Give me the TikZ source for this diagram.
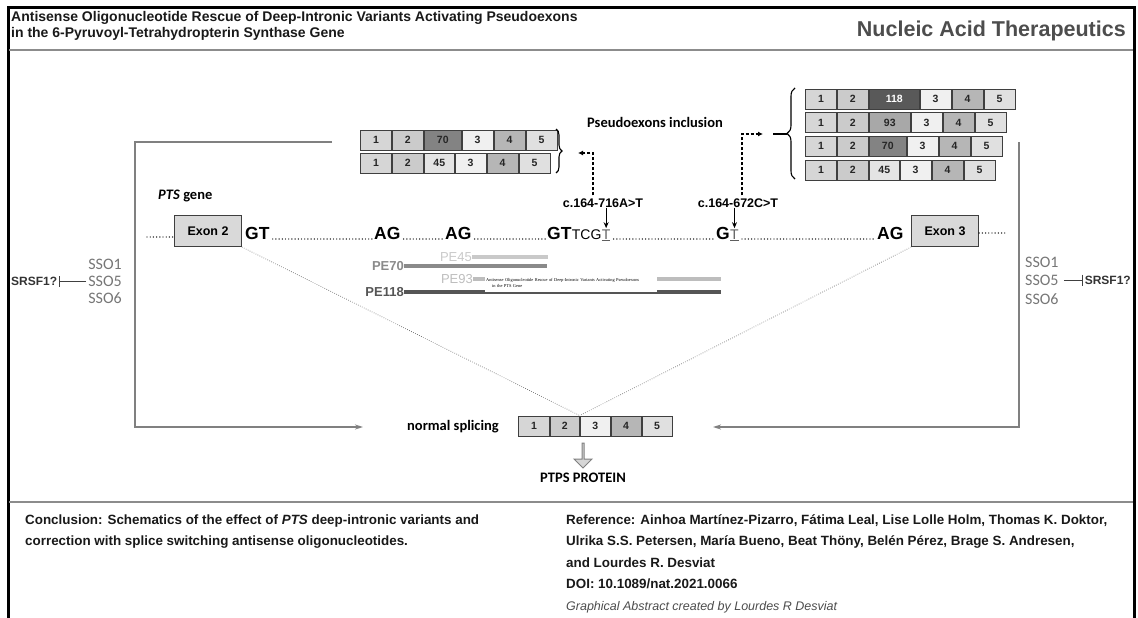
\documentclass[tikz,border=0pt]{standalone}
\usepackage{fontspec}
\setmainfont{Liberation Sans}
\newfontfamily\calfont{Carlito}
\newfontfamily\serfont{Liberation Serif}
\usetikzlibrary{positioning, arrows.meta, decorations.pathreplacing, shapes.arrows}
\definecolor{cellA}{HTML}{D6D6D6}
\definecolor{cellB}{HTML}{CBCBCB}
\definecolor{cellC}{HTML}{F0F0F0}
\definecolor{cellD}{HTML}{B6B6B6}
\definecolor{cellE}{HTML}{E0E0E0}
\definecolor{peA}{HTML}{595959}
\definecolor{peB}{HTML}{A8A8A8}
\definecolor{peC}{HTML}{838383}
\definecolor{peD}{HTML}{E4E4E4}
\definecolor{cellline}{HTML}{3F3F3F}
\definecolor{exonfill}{HTML}{D9D9D9}
\definecolor{flowgray}{HTML}{808080}
\definecolor{rulegray}{HTML}{8C8C8C}
\definecolor{ssogray}{HTML}{767676}
\definecolor{mutgray}{HTML}{5E5E5E}
\definecolor{lineA}{HTML}{C9C9C9}
\definecolor{lineB}{HTML}{8A8A8A}
\definecolor{lineC}{HTML}{BDBDBD}
\definecolor{lineD}{HTML}{555555}
\definecolor{journalgray}{HTML}{4D4D4D}
\tikzstyle{dasharrow} = [line width=1.1pt,dash pattern=on 3pt off 2pt,-{Latex[length=5pt,width=5pt]}]

% one transcript row: name, x, y, pseudoexon width, label, pseudoexon options
\newcommand\isorow[6]{%
  \node[cell,fill=cellA,anchor=west] (#1a) at (#2,#3) {1};
  \node[cell,fill=cellB,right=0pt of #1a] (#1b) {2};
  \node[cell,#6,minimum width=#4,right=0pt of #1b] (#1p) {#5};
  \node[cell,fill=cellC,right=0pt of #1p] (#1c) {3};
  \node[cell,fill=cellD,right=0pt of #1c] (#1d) {4};
  \node[cell,fill=cellE,right=0pt of #1d] (#1e) {5};}

\begin{document}
\begin{tikzpicture}[x=1pt,y=-1pt]
        \tikzstyle{every node}=[inner sep=0pt]
        \tikzstyle{cell} = [draw=cellline, line width=0.9pt, minimum width=31, minimum height=20, font=\bfseries\fontsize{10.5}{12}\selectfont, text=black!85]
        \tikzstyle{exon} = [draw=cellline, fill=exonfill, line width=1.3pt, minimum width=67, minimum height=31, font=\bfseries\fontsize{12.5}{14}\selectfont]
        \tikzstyle{splice} = [anchor=base west, font=\bfseries\fontsize{17.5}{20}\selectfont]
        \tikzstyle{mutbase} = [anchor=base west, font=\fontsize{14}{16}\selectfont]
        \tikzstyle{mutlab} = [font=\bfseries\fontsize{12.5}{15}\selectfont]
        \tikzstyle{gdots} = [line width=1.4pt, dash pattern=on 0pt off 3.2pt, line cap=round]
        \tikzstyle{vdots} = [line width=0.9pt, dash pattern=on 0pt off 2.2pt, line cap=round, mutgray]
        \tikzstyle{flow} = [line width=1.6pt, flowgray, -{Stealth[length=8pt,width=5pt]}]
        \tikzstyle{sso} = [font=\calfont\fontsize{16}{18}\selectfont, text=ssogray]
        \tikzstyle{srsf} = [font=\bfseries\fontsize{12}{14}\selectfont, text=black!80]
        \tikzstyle{inhib} = [line width=1pt, black!75, -{Bar[width=11pt]}]
        \tikzstyle{calbold} = [font=\calfont\bfseries\fontsize{14.5}{17}\selectfont]
        \tikzstyle{foot} = [anchor=base west, font=\bfseries\fontsize{13.4}{16}\selectfont, text=black!90]
        \tikzstyle{headline} = [anchor=base west, font=\bfseries\fontsize{14}{17}\selectfont, text=black!90]

        \useasboundingbox (0,0) rectangle (1138,618);

        % header and frame
        \node[headline] (title1) at (11,22) {Antisense Oligonucleotide Rescue of Deep-Intronic Variants Activating Pseudoexons};
        \node[headline] (title2) at (11,38) {in the 6-Pyruvoyl-Tetrahydropterin Synthase Gene};
        \node[anchor=east, font=\bfseries\fontsize{21.5}{25}\selectfont, text=journalgray] (journal) at (1126,31) {Nucleic Acid Therapeutics};
        \draw[line width=3pt, line join=miter] (8,630) -- (8,8) -- (1134,8) -- (1134,630);
        \draw[line width=2pt, rulegray] (9,50) -- (1133,50);
        \draw[line width=2pt, rulegray] (9,502) -- (1133,502);

        % transcripts with pseudoexons
        \isorow{la}{360}{140}{37}{70}{fill=peC}
        \isorow{lb}{360}{163}{30}{45}{fill=peD}
        \isorow{ra}{805}{99}{50}{118}{fill=peA,text=white}
        \isorow{rb}{805}{122.5}{41}{93}{fill=peB}
        \isorow{rc}{805}{146}{37}{70}{fill=peC}
        \isorow{rd}{805}{170}{30}{45}{fill=peD}
        \draw[line width=1.1pt, decorate, decoration={brace, amplitude=6pt}] (556,129) -- (556,173);
        \draw[line width=1.1pt, decorate, decoration={brace, amplitude=8pt}] (795,179) -- (795,88);
        \node[calbold] (pei) at (655,122) {Pseudoexons inclusion};

        % PTS gene
        \node[calbold, anchor=west] (pts) at (158,196) {\textit{PTS} gene};
        \node[exon] (ex2) at (208,231) {Exon 2};
        \node[exon] (ex3) at (945,231) {Exon 3};
        \node[splice] (gt1) at (245,239) {GT};
        \node[splice] (ag1) at (374,239) {AG};
        \node[splice] (ag2) at (445,239) {AG};
        \node[splice] (gt2) at (547,239) {GT};
        \node[mutbase] (tcg) at (gt2.base east) {TCG};
        \node[mutbase, text=mutgray] (mut1) at (tcg.base east) {\underline{T}};
        \node[splice] (g3) at (716,239) {G};
        \node[mutbase, text=mutgray] (mut2) at (g3.base east) {\underline{T}};
        \node[splice] (ag3) at (877,239) {AG};
        \coordinate (gstart) at (147,237);
        \coordinate (gend) at (1007,233);
        \draw[gdots] (gstart) -- (gstart -| ex2.west);
        \draw[gdots] ([xshift=3pt]gt1.base east) -- ([xshift=-1pt]ag1.base west);
        \draw[gdots] ([xshift=3pt]ag1.base east) -- ([xshift=-1pt]ag2.base west);
        \draw[gdots] ([xshift=3pt]ag2.base east) -- ([xshift=-1pt]gt2.base west);
        \draw[gdots] ([xshift=3pt]mut1.base east) -- ([xshift=-1pt]g3.base west);
        \draw[gdots] ([xshift=3pt]mut2.base east) -- ([xshift=-1pt]ag3.base west);
        \draw[gdots] (ex3.east |- gend) -- (gend);

        % variants
        \node[mutlab] (m716) at (603,203) {c.164-716A>T};
        \node[mutlab] (m672) at (738,203) {c.164-672C>T};
        \draw[line width=1.1pt, -{Stealth[length=6pt,width=5pt]}] (mut1.north |- m716.south) -- ([yshift=1pt]mut1.north);
        \draw[line width=1.1pt, -{Stealth[length=6pt,width=5pt]}] (mut2.north |- m672.south) -- ([yshift=1pt]mut2.north);
        \coordinate (ltip) at (578,153);
        \coordinate (rtip) at (763,134);
        \coordinate (rbr) at (787,134);
        \draw[dasharrow] ([xshift=-10pt,yshift=3pt]m716.north) |- (ltip);
        \draw[dasharrow] ([xshift=4pt,yshift=3pt]m672.north) |- (rtip);
        \draw[line width=1.1pt] ([xshift=10pt]rtip) -- (rbr);

        % pseudoexon extents
        \node[anchor=east, font=\fontsize{13}{15}\selectfont, text=lineA] (pe45) at (472,257) {PE45};
        \node[anchor=east, font=\bfseries\fontsize{13}{15}\selectfont, text=lineB] (pe70) at (404,266) {PE70};
        \node[anchor=east, font=\fontsize{13}{15}\selectfont, text=lineC] (pe93) at (473,279) {PE93};
        \node[anchor=east, font=\bfseries\fontsize{13}{15}\selectfont, text=lineD] (pe118) at (404,292) {PE118};
        \coordinate (pe45e) at (548,257);
        \coordinate (pe70e) at (547,266);
        \coordinate (pe93e) at (721,279);
        \coordinate (pe118e) at (721,292);
        \draw[line width=4pt, lineA] (pe45.east) -- (pe45e);
        \draw[line width=3.5pt, lineB] (pe70.east) -- (pe70e);
        \draw[line width=4pt, lineC] (pe93.east) -- (pe93e);
        \draw[line width=4pt, lineD] (pe118.east) -- (pe118e);
        \node[anchor=north west, fill=white, minimum width=172, minimum height=17.5, text width=170, align=left, font=\serfont\fontsize{4.4}{6}\selectfont] (tiny) at (485,274) {Antisense Oligonucleotide Rescue of Deep-Intronic Variants Activating Pseudoexons\\ \hspace*{6pt}in the PTS Gene};

        % SSOs
        \node[sso, anchor=east] (ls1) at (122,264) {SSO1};
        \node[sso, anchor=east] (ls5) at (122,281) {SSO5};
        \node[sso, anchor=east] (ls6) at (122,298) {SSO6};
        \node[srsf, anchor=west] (lsr) at (11,281) {SRSF1?};
        \draw[inhib, shorten >=2pt, shorten <=2pt] (ls5.west) -- (lsr.east);
        \node[sso, anchor=west] (rs1) at (1025,262) {SSO1};
        \node[sso, anchor=west] (rs5) at (1025,280) {SSO5};
        \node[sso, anchor=west] (rs6) at (1025,299) {SSO6};
        \node[srsf, anchor=east] (rsr) at (1131,280) {SRSF1?};
        \draw[inhib, shorten >=2pt, shorten <=5pt] (rs5.east) -- (rsr.west);

        % normal splicing
        \node[calbold, anchor=west] (ns) at (407,427) {normal splicing};
        \node[cell,fill=cellA,anchor=west,minimum width=31] (na) at (518,426) {1};
        \node[cell,fill=cellB,minimum width=29,right=0pt of na] (nb) {2};
        \node[cell,fill=cellC,minimum width=30,right=0pt of nb] (nc) {3};
        \node[cell,fill=cellD,minimum width=30,right=0pt of nc] (nd) {4};
        \node[cell,fill=cellE,minimum width=30,right=0pt of nd] (ne) {5};
        \draw[vdots] (ex2.south east) -- (nb.north east);
        \draw[vdots] (ex3.south west) -- (nb.north east);
        \coordinate (ltop) at (332,142);
        \coordinate (lin) at (363,427);
        \coordinate (rtop) at (1019,142);
        \coordinate (rin) at (713,427);
        \draw[flow] (ltop) -- (135,142) |- (lin);
        \draw[flow] (rtop) |- (rin);
        \node[single arrow, draw=flowgray, fill=cellA, line width=1pt, shape border rotate=270, minimum height=25, minimum width=18, single arrow head extend=4pt] (parr) at (583,455) {};
        \node[calbold] (ptps) at (583,478) {PTPS PROTEIN};

        % footer
        \node[foot] (concl1) at (25,524) {Conclusion: Schematics of the effect of \textit{PTS} deep-intronic variants and};
        \node[foot] (concl2) at (25,545.5) {correction with splice switching antisense oligonucleotides.};
        \node[foot] (ref1) at (566,524) {Reference: Ainhoa Martínez-Pizarro, Fátima Leal, Lise Lolle Holm, Thomas K. Doktor,};
        \node[foot] (ref2) at (566,545.5) {Ulrika S.S. Petersen, María Bueno, Beat Thöny, Belén Pérez, Brage S. Andresen,};
        \node[foot] (ref3) at (566,567) {and Lourdes R. Desviat};
        \node[foot] (doi) at (566,588.5) {DOI: 10.1089/nat.2021.0066};
        \node[anchor=base west, font=\itshape\fontsize{12.5}{14}\selectfont, text=black!70] (credit) at (566,610) {Graphical Abstract created by Lourdes R Desviat};
\end{tikzpicture}
\end{document}
